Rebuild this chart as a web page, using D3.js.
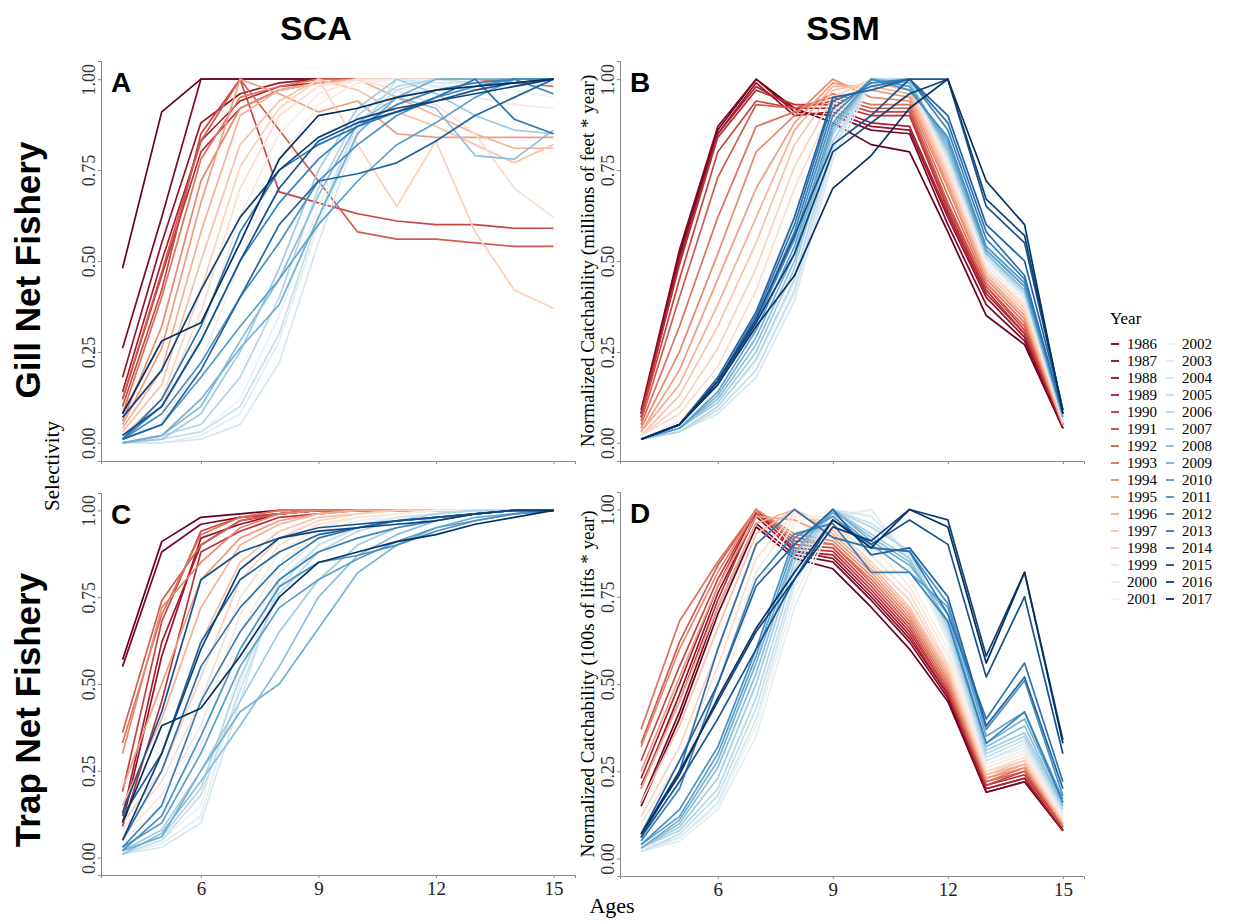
<!DOCTYPE html>
<html>
<head>
<meta charset="utf-8">
<script src="https://cdn.jsdelivr.net/npm/d3@7"></script>
<style>
  body { margin: 0; background: #fff; }
  svg { display: block; }
</style>
</head>
<body>
<svg id="chart" width="1241" height="924"></svg>
<script>
// ---------------- DATA ----------------
const years = d3.range(1986, 2018);
const ages = [4, 5, 6, 7, 8, 9, 10, 11, 12, 13, 14, 15];
const xTicks = [6, 9, 12, 15];
const yTicks = [0, 0.25, 0.5, 0.75, 1];

// Panel A: SCA, gill net selectivity (rows = years 1986..2017, cols = ages 4..15)
const scaGill = [
  [0.48,0.91,1.00,1.00,1.00,1.00,1.00,1.00,1.00,1.00,1.00,1.00],
  [0.26,0.62,1.00,1.00,1.00,1.00,1.00,1.00,1.00,1.00,1.00,1.00],
  [0.18,0.55,0.88,0.96,0.99,1.00,1.00,1.00,1.00,1.00,1.00,1.00],
  [0.14,0.50,0.83,0.94,0.98,0.99,1.00,1.00,1.00,1.00,1.00,1.00],
  [0.12,0.46,0.80,0.92,0.97,0.99,1.00,1.00,1.00,1.00,1.00,1.00],
  [0.10,0.42,0.85,1.00,0.69,0.66,0.63,0.61,0.60,0.60,0.59,0.59],
  [0.12,0.47,0.83,1.00,0.86,0.72,0.58,0.56,0.56,0.55,0.54,0.54],
  [0.08,0.40,0.78,0.95,0.98,1.00,1.00,1.00,1.00,1.00,0.99,0.98],
  [0.06,0.32,0.72,0.92,0.97,0.99,1.00,1.00,1.00,1.00,1.00,1.00],
  [0.05,0.26,0.66,1.00,0.96,0.91,0.94,0.85,0.84,0.84,0.84,0.84],
  [0.04,0.20,0.58,0.90,0.97,0.99,1.00,0.95,0.90,0.85,0.81,0.81],
  [0.03,0.16,0.50,0.82,0.94,1.00,0.97,0.91,0.87,0.82,0.77,0.82],
  [0.02,0.12,0.42,0.76,0.92,1.00,0.82,0.65,0.83,0.58,0.42,0.37],
  [0.02,0.10,0.36,0.70,0.90,0.98,1.00,0.97,0.93,0.85,0.70,0.62],
  [0.01,0.08,0.30,0.62,0.85,0.96,1.00,1.00,0.98,0.95,0.93,0.92],
  [0.01,0.06,0.22,0.50,0.78,0.93,0.99,1.00,1.00,0.99,0.97,0.95],
  [0.00,0.01,0.03,0.12,0.35,0.65,0.86,0.95,0.98,1.00,1.00,1.00],
  [0.00,0.00,0.02,0.08,0.28,0.60,0.85,1.00,0.98,0.97,0.98,0.99],
  [0.00,0.00,0.01,0.05,0.22,0.55,0.85,1.00,0.99,0.99,0.99,1.00],
  [0.00,0.01,0.03,0.10,0.30,0.62,0.88,0.97,1.00,0.99,0.99,1.00],
  [0.00,0.02,0.05,0.18,0.40,0.70,0.90,0.98,1.00,1.00,1.00,1.00],
  [0.00,0.01,0.08,0.25,0.48,0.75,0.92,1.00,0.96,0.90,0.86,0.85],
  [0.00,0.02,0.10,0.28,0.45,0.68,0.88,0.95,0.92,0.79,0.78,0.86],
  [0.00,0.02,0.12,0.26,0.38,0.62,0.85,0.95,1.00,1.00,1.00,1.00],
  [0.01,0.05,0.18,0.32,0.45,0.60,0.72,0.82,0.88,0.95,1.00,1.00],
  [0.01,0.08,0.22,0.40,0.55,0.72,0.82,0.90,0.95,0.98,1.00,1.00],
  [0.01,0.10,0.28,0.50,0.66,0.78,0.87,0.93,0.97,0.99,1.00,0.96],
  [0.01,0.12,0.32,0.58,0.75,0.82,0.87,0.91,0.95,1.00,0.89,0.85],
  [0.01,0.05,0.20,0.40,0.60,0.72,0.74,0.77,0.83,0.90,0.95,1.00],
  [0.02,0.10,0.28,0.50,0.70,0.83,0.88,0.91,0.94,0.97,0.99,1.00],
  [0.07,0.20,0.42,0.62,0.75,0.84,0.89,0.92,0.94,0.96,0.98,1.00],
  [0.08,0.28,0.33,0.55,0.78,0.90,0.92,0.95,0.97,0.98,0.99,1.00]
];

// Panel B: SSM, gill net normalized catchability
const ssmGill = [
  [0.08,0.52,0.86,1.00,0.92,0.88,0.82,0.80,0.58,0.35,0.27,0.04],
  [0.09,0.53,0.87,1.00,0.91,0.90,0.86,0.85,0.60,0.38,0.28,0.04],
  [0.08,0.51,0.85,0.99,0.90,0.91,0.87,0.86,0.62,0.40,0.29,0.04],
  [0.07,0.50,0.85,0.98,0.92,0.92,0.88,0.87,0.63,0.41,0.30,0.05],
  [0.08,0.49,0.84,0.97,0.93,0.93,0.90,0.90,0.64,0.42,0.30,0.05],
  [0.07,0.45,0.80,0.94,0.92,0.94,0.91,0.91,0.65,0.43,0.31,0.05],
  [0.06,0.40,0.73,0.93,0.92,0.95,0.92,0.92,0.66,0.43,0.32,0.05],
  [0.05,0.32,0.62,0.87,0.91,0.96,0.93,0.93,0.68,0.44,0.33,0.05],
  [0.04,0.25,0.52,0.80,0.90,1.00,0.95,0.94,0.70,0.45,0.34,0.05],
  [0.03,0.20,0.45,0.70,0.88,0.99,0.97,0.95,0.71,0.46,0.35,0.05],
  [0.03,0.16,0.38,0.62,0.86,0.98,0.98,0.96,0.72,0.46,0.35,0.05],
  [0.02,0.13,0.32,0.55,0.82,0.97,0.99,0.97,0.73,0.47,0.36,0.06],
  [0.02,0.10,0.26,0.48,0.76,0.95,1.00,0.98,0.74,0.48,0.37,0.06],
  [0.02,0.08,0.21,0.42,0.70,0.93,1.00,0.99,0.75,0.48,0.38,0.06],
  [0.01,0.06,0.17,0.36,0.63,0.91,1.00,0.99,0.76,0.49,0.39,0.06],
  [0.01,0.05,0.14,0.31,0.57,0.89,1.00,1.00,0.77,0.49,0.39,0.06],
  [0.01,0.03,0.10,0.22,0.44,0.82,1.00,0.99,0.77,0.50,0.40,0.06],
  [0.01,0.03,0.09,0.20,0.41,0.80,1.00,0.99,0.78,0.50,0.40,0.06],
  [0.01,0.03,0.08,0.18,0.39,0.78,0.99,0.99,0.78,0.51,0.40,0.06],
  [0.01,0.03,0.09,0.20,0.42,0.81,1.00,1.00,0.79,0.51,0.41,0.07],
  [0.01,0.03,0.10,0.23,0.45,0.83,1.00,1.00,0.80,0.52,0.41,0.07],
  [0.01,0.04,0.11,0.25,0.48,0.85,1.00,0.99,0.80,0.52,0.42,0.07],
  [0.01,0.04,0.12,0.27,0.50,0.86,1.00,0.99,0.81,0.52,0.42,0.07],
  [0.01,0.04,0.13,0.29,0.52,0.87,1.00,0.98,0.82,0.53,0.43,0.07],
  [0.01,0.04,0.14,0.31,0.54,0.88,1.00,0.98,0.83,0.53,0.43,0.08],
  [0.01,0.05,0.16,0.33,0.56,0.90,1.00,0.97,0.84,0.54,0.44,0.08],
  [0.01,0.05,0.17,0.34,0.58,0.92,0.99,1.00,0.86,0.56,0.45,0.08],
  [0.01,0.05,0.17,0.35,0.60,0.94,0.98,1.00,0.88,0.58,0.46,0.08],
  [0.01,0.05,0.18,0.36,0.62,0.95,0.97,1.00,0.90,0.60,0.50,0.09],
  [0.01,0.05,0.17,0.34,0.57,0.82,0.90,1.00,1.00,0.65,0.55,0.09],
  [0.01,0.05,0.17,0.33,0.52,0.80,0.88,0.96,1.00,0.67,0.57,0.09],
  [0.01,0.05,0.16,0.32,0.46,0.70,0.79,0.92,1.00,0.72,0.60,0.08]
];

// Panel C: SCA, trap net selectivity
const scaTrap = [
  [0.57,0.91,0.98,0.99,1.00,1.00,1.00,1.00,1.00,1.00,1.00,1.00],
  [0.55,0.88,0.96,0.98,0.99,1.00,1.00,1.00,1.00,1.00,1.00,1.00],
  [0.10,0.58,0.92,0.96,0.99,1.00,1.00,1.00,1.00,1.00,1.00,1.00],
  [0.12,0.62,0.90,0.97,0.99,1.00,1.00,1.00,1.00,1.00,1.00,1.00],
  [0.09,0.45,0.88,0.94,0.98,0.99,1.00,1.00,1.00,1.00,1.00,1.00],
  [0.19,0.68,0.94,0.98,0.99,1.00,1.00,1.00,1.00,1.00,1.00,1.00],
  [0.36,0.74,0.90,0.97,0.99,1.00,1.00,1.00,1.00,1.00,1.00,1.00],
  [0.33,0.70,0.93,0.98,1.00,1.00,1.00,1.00,1.00,1.00,1.00,1.00],
  [0.30,0.72,0.85,0.95,0.99,1.00,1.00,1.00,1.00,1.00,1.00,1.00],
  [0.20,0.50,0.80,0.92,0.97,0.99,1.00,1.00,1.00,1.00,1.00,1.00],
  [0.15,0.40,0.72,0.90,0.96,0.99,1.00,1.00,1.00,1.00,1.00,1.00],
  [0.12,0.30,0.62,0.85,0.94,0.98,0.99,1.00,1.00,1.00,1.00,1.00],
  [0.10,0.25,0.52,0.80,0.92,0.97,0.99,1.00,1.00,1.00,1.00,1.00],
  [0.08,0.22,0.45,0.75,0.90,0.96,0.98,0.99,1.00,1.00,1.00,1.00],
  [0.06,0.18,0.38,0.70,0.88,0.95,0.98,0.99,1.00,1.00,1.00,1.00],
  [0.05,0.15,0.32,0.65,0.85,0.94,0.97,0.99,1.00,1.00,1.00,1.00],
  [0.02,0.05,0.15,0.55,0.85,0.93,0.97,0.98,0.99,1.00,1.00,1.00],
  [0.01,0.04,0.12,0.50,0.82,0.92,0.96,0.98,0.99,1.00,1.00,1.00],
  [0.01,0.03,0.10,0.45,0.80,0.90,0.95,0.98,0.99,1.00,1.00,1.00],
  [0.01,0.05,0.18,0.48,0.78,0.90,0.95,0.97,0.99,1.00,1.00,1.00],
  [0.02,0.06,0.20,0.52,0.76,0.88,0.94,0.97,0.99,1.00,1.00,1.00],
  [0.02,0.08,0.25,0.45,0.65,0.80,0.90,0.95,0.98,0.99,1.00,1.00],
  [0.01,0.07,0.22,0.38,0.55,0.75,0.87,0.93,0.97,0.99,1.00,1.00],
  [0.02,0.06,0.25,0.42,0.50,0.66,0.82,0.90,0.95,0.98,0.99,1.00],
  [0.03,0.10,0.30,0.55,0.72,0.80,0.86,0.91,0.95,0.97,0.99,1.00],
  [0.02,0.12,0.35,0.60,0.78,0.85,0.87,0.90,0.94,0.97,0.99,1.00],
  [0.03,0.15,0.45,0.65,0.80,0.88,0.92,0.95,0.97,0.99,1.00,1.00],
  [0.05,0.25,0.55,0.72,0.84,0.92,0.95,0.97,0.98,0.99,1.00,1.00],
  [0.12,0.30,0.62,0.80,0.88,0.93,0.95,0.97,0.98,0.99,1.00,1.00],
  [0.13,0.42,0.80,0.88,0.92,0.95,0.96,0.97,0.98,0.99,1.00,1.00],
  [0.05,0.30,0.60,0.83,0.92,0.94,0.95,0.96,0.97,0.99,1.00,1.00],
  [0.10,0.38,0.43,0.58,0.75,0.85,0.88,0.91,0.93,0.96,0.98,1.00]
];

// Panel D: SSM, trap net normalized catchability
const ssmTrap = [
  [0.15,0.40,0.70,0.95,0.86,0.83,0.72,0.60,0.45,0.19,0.22,0.08],
  [0.16,0.42,0.72,0.96,0.87,0.85,0.74,0.62,0.46,0.19,0.22,0.08],
  [0.20,0.47,0.76,0.98,0.88,0.86,0.75,0.63,0.47,0.20,0.23,0.08],
  [0.23,0.50,0.78,1.00,0.88,0.87,0.76,0.64,0.47,0.20,0.23,0.08],
  [0.21,0.45,0.74,0.99,0.89,0.88,0.77,0.65,0.48,0.21,0.24,0.09],
  [0.28,0.55,0.80,1.00,0.90,0.89,0.78,0.66,0.48,0.21,0.25,0.09],
  [0.33,0.62,0.84,1.00,0.91,0.90,0.79,0.67,0.49,0.22,0.25,0.09],
  [0.37,0.68,0.85,1.00,0.92,0.90,0.80,0.68,0.50,0.22,0.26,0.10],
  [0.32,0.60,0.82,1.00,0.93,0.91,0.81,0.69,0.51,0.23,0.26,0.10],
  [0.25,0.52,0.78,0.98,0.97,0.92,0.82,0.70,0.52,0.23,0.27,0.10],
  [0.20,0.45,0.72,0.96,1.00,0.93,0.83,0.71,0.53,0.24,0.27,0.10],
  [0.16,0.38,0.66,0.93,1.00,0.94,0.84,0.72,0.54,0.24,0.28,0.11],
  [0.12,0.32,0.60,0.90,1.00,0.95,0.85,0.74,0.55,0.25,0.28,0.11],
  [0.10,0.28,0.55,0.86,0.99,0.96,0.87,0.76,0.56,0.25,0.29,0.11],
  [0.08,0.24,0.50,0.82,0.98,0.98,0.90,0.78,0.58,0.26,0.30,0.12],
  [0.06,0.20,0.45,0.78,0.96,1.00,0.95,0.80,0.60,0.27,0.31,0.12],
  [0.03,0.06,0.15,0.38,0.75,0.98,1.00,0.85,0.62,0.27,0.31,0.13],
  [0.02,0.05,0.14,0.35,0.72,0.97,1.00,0.86,0.63,0.28,0.32,0.13],
  [0.02,0.06,0.16,0.40,0.78,1.00,0.98,0.87,0.64,0.28,0.33,0.13],
  [0.02,0.07,0.18,0.43,0.80,1.00,0.96,0.88,0.65,0.29,0.34,0.14],
  [0.03,0.08,0.20,0.46,0.83,1.00,0.95,0.88,0.66,0.30,0.35,0.14],
  [0.03,0.09,0.23,0.50,0.85,1.00,0.93,0.86,0.67,0.31,0.36,0.15],
  [0.03,0.10,0.26,0.53,0.87,1.00,0.92,0.85,0.68,0.32,0.38,0.15],
  [0.03,0.11,0.28,0.56,0.88,1.00,0.91,0.84,0.70,0.33,0.40,0.16],
  [0.04,0.12,0.30,0.58,0.90,0.99,0.90,0.82,0.72,0.35,0.42,0.17],
  [0.04,0.14,0.32,0.60,0.92,0.98,0.89,0.88,0.73,0.37,0.51,0.18],
  [0.05,0.20,0.50,0.80,0.93,0.96,0.82,0.82,0.68,0.33,0.42,0.16],
  [0.06,0.25,0.60,0.90,1.00,0.92,0.89,0.88,0.70,0.40,0.56,0.22],
  [0.07,0.28,0.50,0.78,0.90,1.00,0.87,0.89,0.75,0.38,0.52,0.20],
  [0.06,0.22,0.40,0.60,0.80,0.97,0.90,0.97,0.90,0.52,0.75,0.30],
  [0.07,0.25,0.45,0.65,0.80,0.95,0.91,1.00,0.97,0.58,0.82,0.34],
  [0.07,0.24,0.46,0.66,0.82,0.97,0.89,1.00,0.95,0.56,0.82,0.33]
];

// ---------------- DRAWING ----------------
const svg = d3.select("#chart");
const serif = "'Liberation Serif', 'Times New Roman', serif";
const boldSans = "'Liberation Sans Narrow', 'Arial Narrow', 'Liberation Sans', Arial, sans-serif";
const axisColor = "#8a8a8a";

const color = d3.scaleSequential(t => d3.interpolateRdBu(t)).domain([0, years.length - 1]);

const panels = [
  { key: "A", data: scaGill, x0: 101, x1: 575, y0: 461, y1: 61, xLabels: false },
  { key: "B", data: ssmGill, x0: 620, x1: 1084, y0: 461, y1: 61, xLabels: false },
  { key: "C", data: scaTrap, x0: 101, x1: 575, y0: 875, y1: 493, xLabels: true },
  { key: "D", data: ssmTrap, x0: 620, x1: 1084, y0: 876, y1: 492, xLabels: true }
];

panels.forEach(p => {
  const x = d3.scaleLinear().domain([3.45, 15.55]).range([p.x0, p.x1]);
  const y = d3.scaleLinear().domain([-0.05, 1.05]).range([p.y0, p.y1]);
  const g = svg.append("g");

  // axes
  const xAxis = d3.axisBottom(x).tickValues(xTicks).tickSize(3).tickPadding(4)
    .tickFormat(p.xLabels ? d3.format("d") : () => "");
  const gx = g.append("g").attr("transform", `translate(0,${p.y0})`).call(xAxis);
  gx.select(".domain").attr("stroke", axisColor);
  gx.selectAll(".tick line").attr("stroke", axisColor);
  gx.selectAll("text").attr("font-family", serif).attr("font-size", 19).attr("fill", "#222");

  const yAxis = d3.axisLeft(y).tickValues(yTicks).tickSize(3).tickPadding(2)
    .tickFormat(d3.format(".2f"));
  const gy = g.append("g").attr("transform", `translate(${p.x0},0)`).call(yAxis);
  gy.select(".domain").attr("stroke", axisColor);
  gy.selectAll(".tick line").attr("stroke", axisColor);
  gy.selectAll("text")
    .attr("font-family", serif).attr("font-size", 18).attr("fill", "#333")
    .attr("text-anchor", "middle")
    .attr("dy", "0")
    .attr("transform", "rotate(-90)")
    .attr("x", 0).attr("y", -6);

  // lines
  const line = d3.line().x((d, i) => x(ages[i])).y(d => y(d));
  g.append("g").selectAll("path")
    .data(p.data)
    .join("path")
    .attr("d", d => line(d))
    .attr("fill", "none")
    .attr("stroke", (d, i) => color(i))
    .attr("stroke-width", 1.7)
    .attr("stroke-linejoin", "round");

  // panel letter
  g.append("text")
    .attr("x", p.x0 + 10).attr("y", p.y1 + 31)
    .attr("font-family", "'Liberation Sans', Arial, sans-serif")
    .attr("font-weight", "bold").attr("font-size", 28)
    .text(p.key);
});

// Column titles
svg.append("text").attr("x", 316).attr("y", 40).attr("text-anchor", "middle")
  .attr("font-family", boldSans).attr("font-weight", "bold").attr("font-size", 34).text("SCA");
svg.append("text").attr("x", 843).attr("y", 40).attr("text-anchor", "middle")
  .attr("font-family", boldSans).attr("font-weight", "bold").attr("font-size", 34).text("SSM");

// Row titles
svg.append("text").attr("transform", "translate(40,270) rotate(-90)").attr("text-anchor", "middle")
  .attr("font-family", boldSans).attr("font-weight", "bold").attr("font-size", 35).text("Gill Net Fishery");
svg.append("text").attr("transform", "translate(40,710) rotate(-90)").attr("text-anchor", "middle")
  .attr("font-family", boldSans).attr("font-weight", "bold").attr("font-size", 35).text("Trap Net Fishery");

// Axis titles
svg.append("text").attr("transform", "translate(59,466) rotate(-90)").attr("text-anchor", "middle")
  .attr("font-family", serif).attr("font-size", 21).text("Selectivity");
svg.append("text").attr("transform", "translate(594,261) rotate(-90)").attr("text-anchor", "middle")
  .attr("font-family", serif).attr("font-size", 19).text("Normalized Catchability (millions of feet * year)");
svg.append("text").attr("transform", "translate(594,684) rotate(-90)").attr("text-anchor", "middle")
  .attr("font-family", serif).attr("font-size", 19).text("Normalized Catchability (100s of lifts * year)");
svg.append("text").attr("x", 612).attr("y", 913).attr("text-anchor", "middle")
  .attr("font-family", serif).attr("font-size", 22).text("Ages");

// Legend
const lg = svg.append("g");
lg.append("text").attr("x", 1110).attr("y", 324)
  .attr("font-family", serif).attr("font-size", 17).text("Year");
const rowH = 17, legendTop = 344;
years.forEach((yr, i) => {
  const col = Math.floor(i / 16), r = i % 16;
  const keyX = col === 0 ? 1111 : 1166;
  const textX = col === 0 ? 1127 : 1182;
  const ly = legendTop + r * rowH;
  lg.append("line").attr("x1", keyX).attr("x2", keyX + 8)
    .attr("y1", ly).attr("y2", ly)
    .attr("stroke", color(i)).attr("stroke-width", 1.8);
  lg.append("text").attr("font-family", serif).attr("font-size", 15)
    .attr("x", textX).attr("y", ly + 5).text(yr);
});
</script>
</body>
</html>
